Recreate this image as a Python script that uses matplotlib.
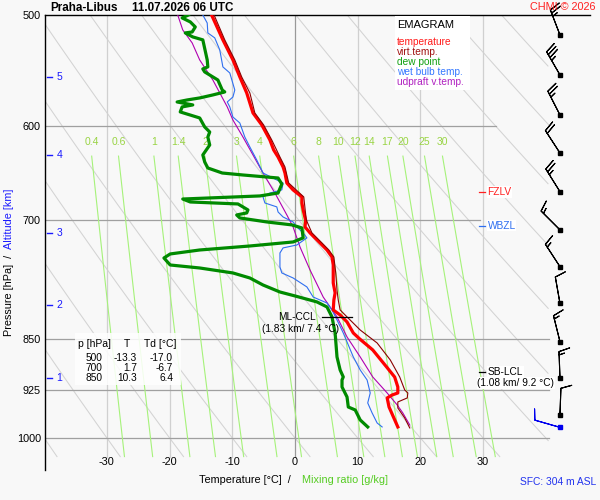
import numpy as np
import matplotlib
matplotlib.use('Agg')
import matplotlib.pyplot as plt
from matplotlib.patches import Rectangle
from matplotlib.ticker import NullLocator
import matplotlib.transforms as mtransforms

plt.rcParams['font.family'] = ['Liberation Sans', 'DejaVu Sans']

# ---------------- data ----------------
station = "Praha-Libus"
stamp = "11.07.2026 06 UTC"

temp_p = [499.9, 520.7, 538.1, 553.3, 568.0, 587.0, 598.6, 613.6, 623.7, 630.9, 641.3, 647.7,
          658.4, 665.9, 673.6, 680.3, 688.1, 700.0, 707.6, 714.5, 726.4, 734.8, 743.3, 753.1,
          763.0, 775.6, 788.4, 797.6, 810.7, 817.4, 826.8, 841.9, 850.0, 865.6, 890.0, 905.0,
          919.8, 928.9, 931.9, 936.5, 950.5, 966.2, 982.1]
temp_t = [-13.3, -11.5, -9.9, -8.8, -7.7, -6.7, -5.3, -4.0, -3.4, -2.7, -1.9, -1.6,
          -1.3, -0.3, 1.1, 1.1, 1.3, 1.7, 1.6, 2.4, 4.0, 5.1, 5.9, 6.1,
          6.1, 6.1, 6.4, 6.2, 6.1, 7.2, 8.3, 9.3, 10.3, 12.4, 14.6, 15.9,
          16.4, 16.4, 15.5, 14.7, 15.0, 15.7, 16.4]

tv_p = [499.9, 520.7, 538.1, 553.3, 568.0, 587.0, 598.6, 613.6, 630.9, 641.3, 658.4, 673.6,
        699.5, 714.5, 726.4, 734.8, 743.3, 763.0, 784.6, 797.6, 810.7, 820.0, 837.8, 855.8,
        880.0, 904.8, 924.3, 928.9, 936.5, 942.7, 952.0, 967.8, 983.7]
tv_t = [-12.9, -11.2, -9.6, -8.5, -7.2, -6.4, -5.0, -3.7, -2.4, -1.6, -1.0, 1.4,
        1.8, 2.7, 4.3, 5.4, 6.2, 6.5, 6.7, 6.9, 7.2, 8.3, 10.4, 13.1,
        15.2, 16.7, 17.5, 18.0, 17.9, 16.4, 16.4, 17.5, 18.3]

dew_p = [499.9, 502.3, 505.6, 509.8, 514.0, 514.8, 518.2, 520.7, 538.1, 544.3, 546.1, 548.8,
         556.1, 565.3, 567.1, 569.9, 572.7, 574.6, 576.5, 579.3, 581.2, 586.0, 591.8, 600.6,
         605.6, 610.6, 618.6, 628.8, 636.1, 642.4, 647.7, 649.8, 653.0, 659.5, 669.3, 672.5,
         675.9, 679.2, 681.4, 688.1, 691.5, 693.8, 697.2, 701.8, 705.2, 708.7, 720.4, 725.2,
         730.0, 734.8, 739.6, 744.5, 753.1, 756.8, 763.0, 769.3, 778.2, 787.2, 792.3, 800.1,
         806.7, 820.0, 841.9, 875.6, 894.5, 904.8, 909.3, 919.8, 935.0, 950.5, 955.1, 970.9,
         982.1]
dew_t = [-17.0, -18.0, -16.7, -15.9, -16.4, -17.5, -16.3, -14.7, -14.0, -13.9, -14.7, -14.4,
         -12.3, -11.6, -11.2, -13.1, -15.2, -17.2, -18.8, -16.3, -18.0, -18.3, -15.2, -14.4,
         -13.6, -13.9, -13.6, -14.7, -14.4, -13.9, -11.6, -8.3, -2.7, -2.1, -2.7, -5.6,
         -17.9, -16.7, -9.1, -7.5, -7.7, -9.3, -8.8, -4.5, -0.5, 1.1, 1.3, -0.3,
         -7.2, -15.2, -19.9, -20.9, -19.9, -15.2, -9.9, -7.2, -5.1, -2.4, 0.0, 3.5,
         5.1, 5.9, 6.4, 6.7, 7.2, 7.7, 7.5, 7.5, 8.3, 8.5, 9.6, 10.4,
         11.6]

wb_p = [499.9, 506.5, 514.8, 519.0, 529.3, 544.3, 549.7, 565.3, 571.8, 576.5, 581.2, 590.9,
        596.7, 610.6, 620.6, 634.0, 647.7, 655.1, 658.4, 665.9, 669.3, 673.6, 680.3, 684.7,
        690.4, 696.1, 701.8, 707.6, 714.5, 720.4, 728.8, 732.3, 738.4, 755.6, 763.0, 769.3,
        780.7, 793.7, 801.5, 810.7, 824.1, 841.9, 875.6, 894.5, 909.3, 928.9, 944.2, 959.8,
        975.7, 982.1]
wb_t = [-14.7, -14.0, -13.9, -12.8, -12.0, -11.5, -10.4, -9.6, -9.9, -10.8, -10.4, -9.9,
        -8.8, -8.0, -7.2, -6.1, -5.1, -2.9, -1.9, -2.1, -4.0, -5.1, -4.8, -2.9,
        -2.7, -1.9, -0.3, 0.3, 1.3, 1.9, 0.3, -1.9, -2.4, -2.4, -2.1, -0.3,
        1.9, 2.9, 5.1, 5.9, 6.7, 7.7, 9.3, 10.4, 11.5, 12.0, 11.6, 12.3,
        13.1, 13.9]

up_p = [499.9, 512.3, 523.3, 538.1, 556.1, 581.2, 593.8, 610.6, 628.8, 647.7, 669.3, 693.8,
        707.6, 731.2, 759.3, 793.7, 820.0, 847.4, 875.6, 904.8, 928.9, 947.3, 959.8, 978.9]
up_t = [-18.7, -17.9, -16.4, -15.2, -13.1, -10.8, -9.9, -8.3, -6.7, -5.1, -3.2, -1.3,
        -0.3, 0.8, 2.4, 4.5, 6.7, 8.3, 10.4, 12.4, 14.7, 16.3, 17.2, 18.3]

# wind barbs (direction from, deg; speed kt)
wind_p = [516.5, 551.5, 588.9, 626.8, 667.8, 711.0, 755.2, 801.9, 853.9, 906.8, 963.0]
wind_dir = [339, 330, 333, 327, 328, 315, 327, 350, 346, 358, 2]
wind_spd = [25, 35, 25, 20, 25, 15, 15, 10, 15, 15, 10]
sfc_wind_p = [981.7]
sfc_wind_dir = [286]
sfc_wind_spd = [10]

# axis labels / ticks
p_ticks = [500, 600, 700, 850, 925, 1000]
t_ticks = [-30, -20, -10, 0, 10, 20, 30]
mix_ratios = [0.4, 0.6, 1, 1.4, 2, 3, 4, 6, 8, 10, 12, 14, 17, 20, 25, 30]
mix_labels = ['0.4', '0.6', '1', '1.4', '2', '3', '4', '6', '8', '10', '12', '14', '17', '20', '25', '30']
alt_km = [1, 2, 3, 4, 5]
alt_p = [906.3, 804.1, 714.5, 629.0, 553.3]

# table
tbl_p = [500, 700, 850]
tbl_T = [-13.3, 1.7, 10.3]
tbl_Td = [-17.0, -6.7, 6.4]

# levels
fzlv_p = 668.0
wbzl_p = 706.0
mlccl_p = 820.0
mlccl_km, mlccl_t = 1.83, 7.4
sblcl_p = 897.5
sblcl_km, sblcl_t = 1.08, 9.2
sfc_alt = 304

# ---------------- figure ----------------
BG = '#f8f8f8'
W, H = 600, 500
fig = plt.figure(figsize=(6, 5), dpi=100)
fig.patch.set_facecolor(BG)

def fx(x):
    return x / W

def fy(y):
    return 1 - y / H

ax = fig.add_axes([fx(45), fy(470), fx(590) - fx(45), fy(15) - fy(470)])
ax.set_facecolor(BG)
ax.set_yscale('log')
X0, X1 = -39.87, 47.05
P0, P1 = 1053.9, 499.9
ax.set_xlim(X0, X1)
ax.set_ylim(P0, P1)

for s in ['right', 'bottom']:
    ax.spines[s].set_visible(False)
for s in ['left', 'top']:
    ax.spines[s].set_color('black')
    ax.spines[s].set_linewidth(1.0)

ax.set_yticks(p_ticks)
ax.set_yticklabels([str(v) for v in p_ticks])
ax.yaxis.set_minor_locator(NullLocator())
ax.tick_params(axis='y', length=0, pad=3, labelsize=7.8)
ax.set_xticks([])

# dry adiabats
pp = np.linspace(499, 1031, 300)
for th in range(-40, 171, 10):
    tt = (th + 273.15) * (pp / 1000.0) ** 0.2857 - 273.15
    tt = np.where(tt > 40.5, np.nan, tt)
    ax.plot(tt, pp, color='#d3d3d3', lw=0.75, zorder=1)

# isotherms
for t in t_ticks:
    ax.plot([t, t], [499.9, 1031], color='#999999' if t == 0 else '#d0d0d0',
            lw=0.9, zorder=1.2)

# isobars
iso_ext = {600: 32.0, 700: 29.5, 850: 40.5, 925: 40.5, 1000: 40.5}
for p in p_ticks[1:]:
    ax.plot([X0, iso_ext[p]], [p, p], color='#a0a0a0', lw=0.9, zorder=1.3)

# mixing ratio lines
pm = np.linspace(630, 1031, 100)
for r, lab in zip(mix_ratios, mix_labels):
    e = r * pm / (622.0 + r)
    a = np.log(e / 6.112)
    tm = 243.5 * a / (17.67 - a)
    ax.plot(tm, pm, color='#a6f27a', lw=0.8, zorder=1.5)
    ax.text(tm[0], 615.6, lab, color='#99d444', fontsize=7.5, ha='center',
            va='center', zorder=2)

# profiles
ax.plot(up_t, up_p, color='#b000b0', lw=0.8, zorder=3)
ax.plot(wb_t, wb_p, color='#2f6ff0', lw=0.8, zorder=3.2)
ax.plot(dew_t, dew_p, color='#008a00', lw=2.3, zorder=3.5)
ax.plot(temp_t, temp_p, color='#ff0000', lw=2.3, zorder=4)
ax.plot(tv_t, tv_p, color='#8b0000', lw=0.8, zorder=4.5)

# x tick labels (inside)
for t in t_ticks:
    ax.text(t, 1040, str(t), fontsize=7.8, ha='center', va='center', color='black')

# altitude ticks
tr = mtransforms.blended_transform_factory(ax.transAxes, ax.transData)
for k, p in zip(alt_km, alt_p):
    ax.plot([0.004, 0.013], [p, p], color='#1a1aff', lw=1.0, transform=tr, zorder=5)
    ax.text(0.021, p, str(k), color='#1a1aff', fontsize=7.5, ha='left', va='center',
            transform=tr)

# annotations
ax.plot([4.3, 9.1], [mlccl_p, mlccl_p], color='black', lw=0.9, zorder=6)
ax.text(3.3, mlccl_p, 'ML-CCL', fontsize=7.3, ha='right', va='center', zorder=6)
ax.text(0.8, 836.3, '(%.2f km/ %.1f °C)' % (mlccl_km, mlccl_t), fontsize=7.3,
        ha='center', va='center', zorder=6)

ax.plot([29.4, 30.3], [sblcl_p, sblcl_p], color='black', lw=0.9, zorder=6)
ax.text(30.7, sblcl_p, 'SB-LCL', fontsize=7.3, ha='left', va='center', zorder=6,
        bbox=dict(facecolor='white', edgecolor='none', pad=0.5))
ax.text(35.2, 913.8, '(%.2f km/ %.1f °C)' % (sblcl_km, sblcl_t), fontsize=7.3,
        ha='center', va='center', zorder=6, clip_on=False,
        bbox=dict(facecolor='white', edgecolor='none', pad=0.5))

ax.plot([29.4, 30.3], [fzlv_p, fzlv_p], color='#ff2020', lw=0.9, zorder=6)
ax.text(30.7, fzlv_p, 'FZLV', fontsize=7.3, color='#ff2020', ha='left', va='center',
        zorder=6, bbox=dict(facecolor='white', edgecolor='none', pad=0.5))
ax.plot([29.4, 30.3], [wbzl_p, wbzl_p], color='#2f6ff0', lw=0.9, zorder=6)
ax.text(30.7, wbzl_p, 'WBZL', fontsize=7.3, color='#2f6ff0', ha='left', va='center',
        zorder=6, bbox=dict(facecolor='white', edgecolor='none', pad=0.5))

# wind barbs
bx = 42.26
def uv(d, s):
    d = np.radians(np.array(d, dtype=float))
    s = np.array(s, dtype=float)
    return -s * np.sin(d), -s * np.cos(d)

u, v = uv(wind_dir, wind_spd)
ax.barbs([bx] * len(wind_p), wind_p, u, v, length=6.2, color='black', lw=0.8,
         clip_on=False, zorder=7)
ax.plot([bx] * len(wind_p), wind_p, 's', ms=2.2, color='black', clip_on=False, zorder=7)
us, vs = uv(sfc_wind_dir, sfc_wind_spd)
ax.barbs([bx], sfc_wind_p, us, vs, length=6.2, color='#0000ee', lw=0.8,
         clip_on=False, zorder=7)
ax.plot([bx], sfc_wind_p, 's', ms=2.2, color='#0000ee', clip_on=False, zorder=7)

# legend box
fig.add_artist(Rectangle((fx(395), fy(90)), fx(470) - fx(395), fy(16) - fy(90),
                         transform=fig.transFigure, facecolor='white', edgecolor='none',
                         zorder=1))
fig.text(fx(397), fy(25), 'EMAGRAM', fontsize=8, ha='left', va='center', zorder=2)
leg = [('temperature', '#ff1a1a'), ('virt.temp.', '#a01010'), ('dew point', '#10a010'),
       ('wet bulb temp.', '#3377ff'), ('udpraft v.temp.', '#b020c0')]
for i, (lab, c) in enumerate(leg):
    fig.text(fx(397), fy(42 + 10 * i), lab, fontsize=7.3, color=c, ha='left',
             va='center', zorder=2)

# table box
fig.add_artist(Rectangle((fx(75), fy(385)), fx(181) - fx(75), fy(333) - fy(385),
                         transform=fig.transFigure, facecolor='white', edgecolor='none',
                         alpha=0.85, zorder=1))
fig.text(fx(78), fy(344), 'p [hPa]', fontsize=7.5, ha='left', va='center', zorder=2)
fig.text(fx(127), fy(344), 'T', fontsize=7.5, ha='center', va='center', zorder=2)
fig.text(fx(144), fy(344), 'Td [°C]', fontsize=7.5, ha='left', va='center', zorder=2)
for i, (p, t, td) in enumerate(zip(tbl_p, tbl_T, tbl_Td)):
    yy = fy(358 + 10 * i)
    fig.text(fx(102), yy, '%d' % p, fontsize=7.3, ha='right', va='center', zorder=2)
    fig.text(fx(137), yy, '%.1f' % t, fontsize=7.3, ha='right', va='center', zorder=2)
    fig.text(fx(173), yy, '%.1f' % td, fontsize=7.3, ha='right', va='center', zorder=2)

# titles and labels
fig.text(fx(50), fy(8), station, fontsize=8.4, fontweight='bold', ha='left', va='center')
fig.text(fx(132), fy(8), stamp, fontsize=8.4, fontweight='bold', ha='left', va='center')
fig.text(fx(596), fy(7), 'CHMI © 2026', fontsize=7.8, color='#ff2020', ha='right',
         va='center')
fig.text(fx(291), fy(480), 'Temperature [°C]  /', fontsize=7.8, ha='right', va='center')
fig.text(fx(302), fy(480), 'Mixing ratio [g/kg]', fontsize=7.8, color='#55cc22',
         ha='left', va='center')
fig.text(fx(596), fy(482), 'SFC: %d m ASL' % sfc_alt, fontsize=7.4, color='#2233ee',
         ha='right', va='center')
fig.text(fx(9), fy(336), 'Pressure [hPa]  /', fontsize=7.8, rotation=90, ha='center',
         va='bottom')
fig.text(fx(9), fy(249), 'Altitude [km]', fontsize=7.8, rotation=90, color='#1a1aff',
         ha='center', va='bottom')

fig.savefig('out.png', dpi=100, facecolor=BG)
